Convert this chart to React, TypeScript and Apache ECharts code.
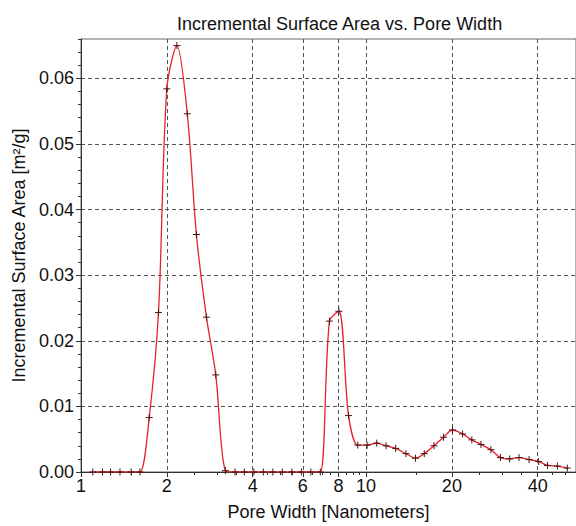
import { useEffect, useRef } from "react";
import * as echarts from "echarts";

// Pore width (nm) and incremental surface area (m²/g)
const poreWidths = [
  1.10, 1.19, 1.27, 1.37, 1.50, 1.61, 1.735, 1.87, 2.00, 2.17, 2.36, 2.54, 2.755, 2.97, 3.21,
  3.47, 3.74, 4.04, 4.36, 4.71, 5.08, 5.49, 5.93, 6.40, 6.91,
  7.44, 8.03, 8.68, 9.35, 10.09, 10.9, 11.75, 12.7, 13.8, 14.9, 16.0, 17.3, 18.7, 20.1,
  21.8, 23.5, 25.3, 27.4, 29.6, 31.9, 34.4, 37.3, 40.3, 43.3, 46.9, 50.8,
];
const surfaceArea = [
  0, 0, 0, 0, 0, 0, 0.0083, 0.0243, 0.0584, 0.0650, 0.0546, 0.0362, 0.0236, 0.0148, 0.0002,
  0, 0, 0, 0, 0, 0, 0, 0, 0, 0,
  0.0230, 0.0245, 0.0086, 0.0041, 0.0041, 0.0044, 0.0040, 0.0036, 0.0028, 0.0021, 0.0028, 0.0040, 0.0053, 0.0064,
  0.0058, 0.0049, 0.0042, 0.0034, 0.0022, 0.0020, 0.0022, 0.0019, 0.0016, 0.0010, 0.0009, 0.0006,
];
const xTickLabels = [1, 2, 4, 6, 8, 10, 20, 40];
const xMinorTicks = [1.5, 2.5, 3, 3.5, 4.5, 5, 5.5, 6.5, 7, 7.5, 8.5, 9, 9.5, 15, 25, 30, 35, 45, 50];
const yTickLabels = [0, 0.01, 0.02, 0.03, 0.04, 0.05, 0.06];
const X_MIN = 1;
const X_MAX = 54.5;
const Y_MAX = 0.066;
const Y_MINOR_STEP = 0.002;

const FONT = '"Liberation Sans", Arial, Helvetica, sans-serif';

export default function App() {
  const ref = useRef<HTMLDivElement>(null);

  useEffect(() => {
    if (!ref.current) return;
    const chart = echarts.init(ref.current, null, { renderer: "svg" });
    const lg = (v: number) => Math.log10(v);
    const yMinor: number[] = [];
    for (let i = 0; i <= Math.round(Y_MAX / Y_MINOR_STEP); i++) yMinor.push(+(i * Y_MINOR_STEP).toFixed(4));

    chart.setOption({
      animation: false,
      backgroundColor: "#ffffff",
      textStyle: { fontFamily: FONT },
      title: {
        text: "Incremental Surface Area vs. Pore Width",
        left: 172,
        top: 10,
        textStyle: { fontFamily: FONT, fontSize: 18, fontWeight: "normal", color: "#111" },
      },
      grid: {
        left: 81,
        right: -1,
        top: 39,
        bottom: 50,
        show: true,
        borderColor: "#666",
        borderWidth: 1,
        backgroundColor: "transparent",
      },
      xAxis: [
        {
          type: "value",
          min: lg(X_MIN),
          max: lg(X_MAX),
          name: "Pore Width [Nanometers]",
          nameLocation: "middle",
          nameGap: 31,
          nameTextStyle: { fontFamily: FONT, fontSize: 18, color: "#111" },
          axisLine: { show: true, lineStyle: { color: "#333", width: 1 } },
          axisTick: { show: true, customValues: xTickLabels.map(lg), length: 5, lineStyle: { color: "#333" } },
          axisLabel: {
            customValues: xTickLabels.map(lg),
            formatter: (v: number) => String(Math.round(Math.pow(10, v))),
            fontFamily: FONT,
            fontSize: 18,
            color: "#111",
            margin: 5,
          },
          splitLine: { show: true, lineStyle: { color: "#555", type: [4, 3], width: 1 } },
        },
        {
          type: "value",
          min: lg(X_MIN),
          max: lg(X_MAX),
          position: "bottom",
          axisLine: { show: false },
          axisTick: { show: true, customValues: xMinorTicks.map(lg), length: 3, lineStyle: { color: "#333" } },
          axisLabel: { show: false },
          splitLine: { show: false },
        },
      ],
      yAxis: [
        {
          type: "value",
          min: 0,
          max: Y_MAX,
          name: "Incremental Surface Area [m²/g]",
          nameLocation: "middle",
          nameGap: 52,
          nameTextStyle: { fontFamily: FONT, fontSize: 18, color: "#111" },
          axisLine: { show: true, lineStyle: { color: "#333", width: 1 } },
          axisTick: { show: true, customValues: yTickLabels, length: 5, lineStyle: { color: "#333" } },
          axisLabel: {
            customValues: yTickLabels,
            formatter: (v: number) => v.toFixed(2),
            fontFamily: FONT,
            fontSize: 18,
            color: "#111",
            margin: 7,
          },
          splitLine: { show: true, lineStyle: { color: "#555", type: [4, 3], width: 1 } },
        },
        {
          type: "value",
          min: 0,
          max: Y_MAX,
          position: "left",
          axisLine: { show: false },
          axisTick: { show: true, customValues: yMinor, length: 3, lineStyle: { color: "#333" } },
          axisLabel: { show: false },
          splitLine: { show: false },
        },
      ],
      series: [
        {
          type: "line",
          xAxisIndex: 0,
          yAxisIndex: 0,
          data: poreWidths.map((w, i) => [lg(w), surfaceArea[i]]),
          smooth: 0.3,
          lineStyle: { color: "#e8202a", width: 1.3 },
          symbol: "path://M0,5L10,5M5,0L5,10",
          symbolSize: 7,
          showSymbol: true,
          itemStyle: { color: "#4a1212", borderColor: "#4a1212", borderWidth: 1 },
          z: 5,
        },
      ],
    });
    return () => chart.dispose();
  }, []);

  return (
    <div
      ref={ref}
      style={{ position: "absolute", left: 0, top: 0, width: 576, height: 526 }}
    />
  );
}
